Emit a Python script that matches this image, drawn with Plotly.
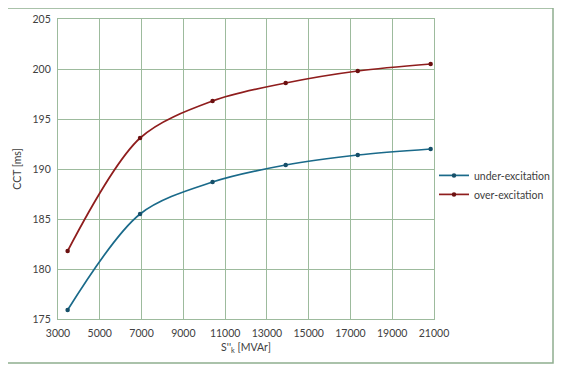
import plotly.graph_objects as go

s_k = [3460, 6930, 10400, 13900, 17350, 20840]
cct_under = [175.9, 185.5, 188.7, 190.4, 191.4, 192.0]
cct_over = [181.8, 193.1, 196.8, 198.6, 199.8, 200.5]

x_ticks = list(range(3000, 21001, 2000))
y_ticks = list(range(175, 206, 5))

grid_col = "#9dbb9d"
font_fam = "Lato, 'Open Sans', sans-serif"

fig = go.Figure()
fig.add_trace(go.Scatter(x=s_k, y=cct_under, name="under-excitation", mode="lines+markers",
                         line=dict(color="#1a6a8a", width=1.7, shape="spline", smoothing=0.9),
                         marker=dict(size=4.5, color="#164f69")))
fig.add_trace(go.Scatter(x=s_k, y=cct_over, name="over-excitation", mode="lines+markers",
                         line=dict(color="#8f1d1d", width=1.7, shape="spline", smoothing=0.9),
                         marker=dict(size=4.5, color="#6b1010")))

fig.update_layout(
    width=555, height=367,
    margin=dict(l=50, r=129, t=11, b=56, autoexpand=False),
    paper_bgcolor="white", plot_bgcolor="white",
    font=dict(family=font_fam, size=10.5, color="#404040"),
    showlegend=True,
    legend=dict(x=1.0, y=0.447, xanchor="left", yanchor="middle",
                font=dict(size=10.5, color="#404040"), bgcolor="rgba(0,0,0,0)",
                itemwidth=30, tracegroupgap=2, entrywidth=110),
    xaxis=dict(range=[3000, 21000], tickvals=x_ticks, ticktext=[str(v) for v in x_ticks],
               showgrid=True, gridcolor=grid_col, gridwidth=1.3,
               showline=True, linecolor=grid_col, linewidth=1.3, mirror=True,
               zeroline=False, ticks="", tickfont=dict(size=10.5), ticklabelstandoff=4,
               title=dict(text="S''<sub>k</sub> [MVAr]", font=dict(size=10.5), standoff=5)),
    yaxis=dict(range=[175, 205], tickvals=y_ticks, ticktext=[str(v) for v in y_ticks],
               showgrid=True, gridcolor=grid_col, gridwidth=1.3,
               showline=True, linecolor=grid_col, linewidth=1.3, mirror=True,
               zeroline=False, ticks="", tickfont=dict(size=10.5), ticklabelstandoff=4,
               title=dict(text="CCT [ms]", font=dict(size=10.5), standoff=8)),
)

fig.add_shape(type="rect", xref="paper", yref="paper",
              x0=-0.1356, x1=1.3165, y0=-0.1467, y1=1.0367,
              line=dict(color="#8fae8f", width=1.5), layer="below")

fig.write_html("out.html")
